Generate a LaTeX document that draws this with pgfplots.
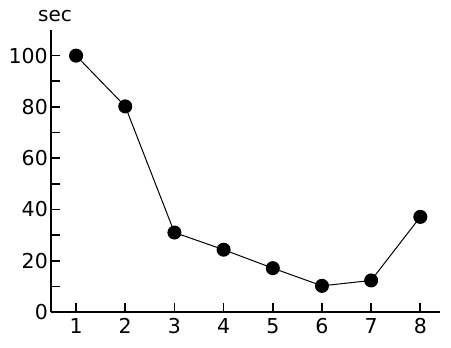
\documentclass[border=0pt]{standalone}
\usepackage{pgfplots}
\pgfplotsset{compat=1.18}
\usepackage{fontspec}
\setmainfont{DejaVu Sans}
\begin{document}
\fontsize{21}{24}\selectfont
\begin{tikzpicture}
\begin{axis}[
  at={(0,0)}, anchor=origin,
  scale only axis, width=389pt, height=282pt,
  xmin=0.49, xmax=8.4, ymin=0, ymax=110,
  axis x line=bottom, axis y line=left,
  axis line style={-, line width=1.7pt},
  xtick={1,...,8}, ytick={0,20,...,100},
  minor ytick={10,30,...,90},
  tick style={line width=1.7pt, black},
  major tick length=9pt, minor tick length=9pt,
  tick align=inside,
  /pgf/number format/assume math mode=true,
  ticklabel style={font=\fontsize{20.5}{24}\selectfont},
  yticklabel style={inner sep=1pt, xshift=-2pt},
  xticklabel style={inner sep=1pt, yshift=-5pt},
  clip=false,
]
\addplot[black, line width=1pt, mark=*, mark size=6.5pt, mark options={fill=black}]
coordinates {(1,100) (2,80.2) (3,31) (4,24.3) (5,17.1) (6,10.2) (7,12.3) (8,37.1)};
\node[anchor=south, inner sep=0pt, font=\fontsize{20}{24}\selectfont] at ([xshift=4pt, yshift=8pt]rel axis cs:0,1) {sec};
\end{axis}
\useasboundingbox (-51pt,-36pt) rectangle (400pt,312pt);
\end{tikzpicture}
\end{document}
